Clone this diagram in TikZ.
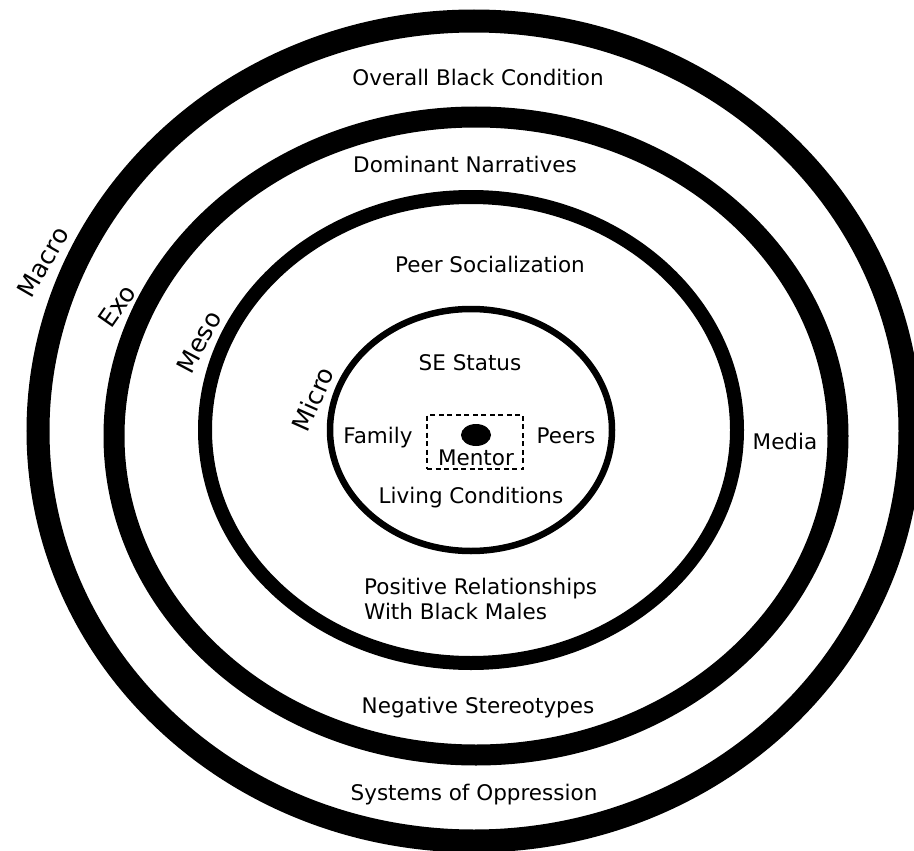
\documentclass[tikz,border=0pt]{standalone}
\usepackage{fontspec}
\setmainfont{DejaVu Sans}
\usetikzlibrary{positioning}
\tikzset {
  % rings of the model, heavier towards the outside
  ring/.style={draw=black},
  macroring/.style={ring, line width=23pt},
  exoring/.style={ring, line width=21pt},
  mesoring/.style={ring, line width=14pt},
  microring/.style={ring, line width=6.5pt},
  % text inside the rings
  factor/.style={font=\fontsize{21.5}{25}\selectfont, inner sep=0pt, anchor=base},
  % names of the levels, turned along the rings
  level/.style={font=\fontsize{25}{29}\selectfont, inner sep=0pt},
  % box round the youth and the mentor
  mentorbox/.style={draw, line width=2.5pt, dash pattern=on 5pt off 3.5pt,
    minimum width=96pt, minimum height=54pt, inner sep=0pt},
}
\begin{document}
\begin{tikzpicture}[x=1pt, y=-1pt]
  \useasboundingbox (0,0) rectangle (914,851);

  \draw[macroring] (474,431) ellipse [x radius=436, y radius=410];
  \draw[exoring] (476,436) ellipse [x radius=362, y radius=319];
  \draw[mesoring] (471,430) ellipse [x radius=266, y radius=233];
  \draw[microring] (471,430) ellipse [x radius=141, y radius=121];

  \node[level, rotate=60] (macro) at (43,262) {Macro};
  \node[level, rotate=55] (exo) at (117,306) {Exo};
  \node[level, rotate=62] (meso) at (199,342) {Meso};
  \node[level, rotate=66] (micro) at (313,399) {Micro};

  \node[factor] (overall) at (478,85) {Overall Black Condition};
  \node[factor] (narratives) at (465,172) {Dominant Narratives};
  \node[factor] (peersoc) at (490,272) {Peer Socialization};
  \node[factor] (sestatus) at (470,370) {SE Status};
  \node[factor] (family) at (378,443) {Family};
  \node[factor] (peers) at (566,443) {Peers};
  \node[factor] (living) at (471,503) {Living Conditions};
  \node[factor] (media) at (785,449) {Media};
  \node[factor, anchor=base west, align=left] (positive) at (364,619)
    {Positive Relationships\\With Black Males};
  \node[factor] (stereotypes) at (478,713) {Negative Stereotypes};
  \node[factor] (oppression) at (474,800) {Systems of Oppression};

  \node[mentorbox] (box) at (475,442) {};
  \fill (476,435) ellipse [x radius=15, y radius=11];
  \node[factor] (mentor) at (476,465) {Mentor};
\end{tikzpicture}
\end{document}
